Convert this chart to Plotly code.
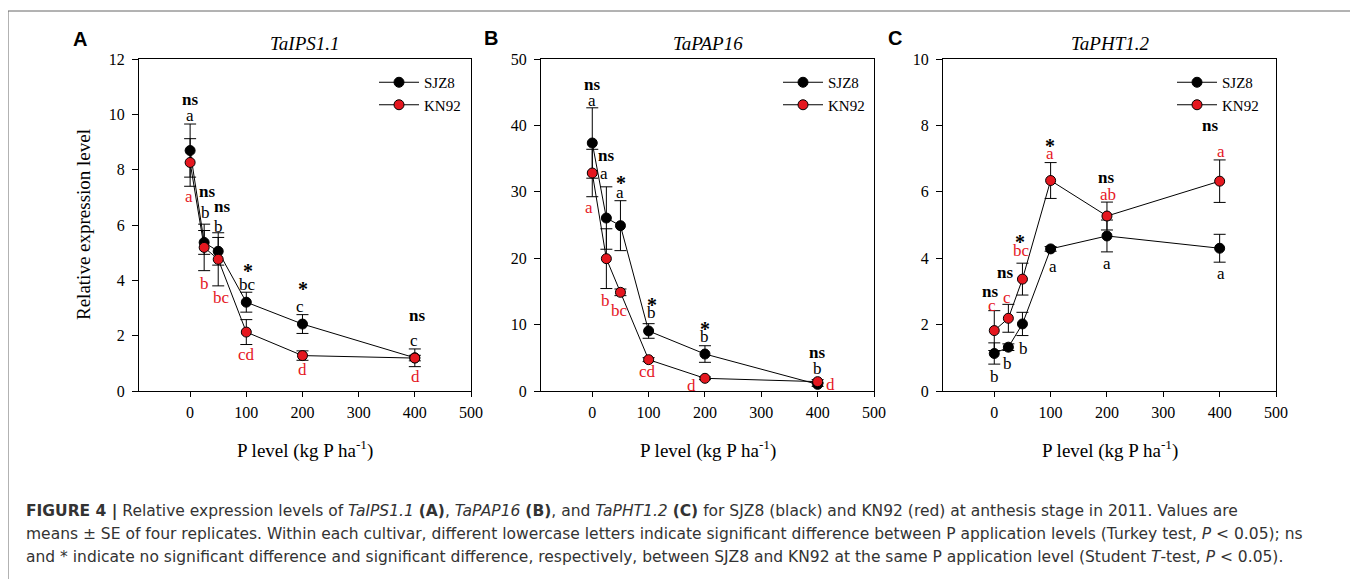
import plotly.graph_objects as go

# page body has an 8px margin: the figure is placed at (8, 8) in the window
OFF = 8
W, H = 1350, 571

# ---------------- data ----------------
p_levels = [0, 25, 50, 100, 200, 400]
x_ticks = [0, 100, 200, 300, 400, 500]
series_names = ["SJZ8", "KN92"]
panel_titles = ["TaIPS1.1", "TaPAP16", "TaPHT1.2"]
panel_letters = ["A", "B", "C"]
y_maxes = [12, 50, 10]
y_dticks = [2, 10, 2]

ips_sjz8 = [8.69, 5.37, 5.05, 3.21, 2.42, 1.20]
ips_sjz8_se = [0.96, 0.43, 0.50, 0.36, 0.34, 0.32]
ips_kn92 = [8.26, 5.19, 4.76, 2.13, 1.28, 1.19]
ips_kn92_se = [0.86, 0.84, 0.96, 0.45, 0.17, 0.10]

pap_sjz8 = [37.35, 26.05, 24.90, 9.04, 5.57, 1.00]
pap_sjz8_se = [5.30, 4.70, 3.76, 1.10, 1.25, 0.30]
pap_kn92 = [32.83, 19.93, 14.86, 4.72, 1.91, 1.41]
pap_kn92_se = [3.57, 4.50, 0.50, 0.30, 0.20, 0.30]

pht_sjz8 = [1.13, 1.32, 2.02, 4.28, 4.67, 4.30]
pht_sjz8_se = [0.32, 0.10, 0.35, 0.07, 0.48, 0.42]
pht_kn92 = [1.82, 2.19, 3.37, 6.34, 5.27, 6.32]
pht_kn92_se = [0.60, 0.42, 0.48, 0.54, 0.42, 0.64]

ips_sig = ["ns", "ns", "ns", "*", "*", "ns"]
ips_sjz8_letters = ["a", "b", "b", "bc", "c", "c"]
ips_kn92_letters = ["a", "b", "bc", "cd", "d", "d"]

pap_sig = ["ns", "ns", "*", "*", "*", "ns"]
pap_sjz8_letters = ["a", "a", "a", "b", "b", "b"]
pap_kn92_letters = ["a", "b", "bc", "cd", "d", "d"]

pht_sig = ["ns", "ns", "*", "*", "ns", "ns"]
pht_sjz8_letters = ["b", "b", "b", "a", "a", "a"]
pht_kn92_letters = ["c", "c", "bc", "a", "ab", "a"]

# ---------------- styling / layout ----------------
SERIF = "Times New Roman, Liberation Serif, serif"
SANS = "Arial, Liberation Sans, sans-serif"
CAPTION_FONT = "DejaVu Sans, sans-serif"
RED = "#e5171f"

plot_left = [139, 541, 943]
plot_right = [471, 874, 1276]
plot_top, plot_bottom = 59, 391
legend_x_px = [374, 778, 1172]
legend_top_px = 66

# label pixel offsets (dx, dy) relative to the anchor point
label_offsets = [
    dict(sig_anchor=0,
         sig=[(0, 51), (3, 51), (4, 45), (2, 36), (1, 40), (2, 42)],
         s=[(0, 35), (1, 30), (0, 25), (1, 18), (-2, 18), (-1, 17)],
         k=[(-1, -34), (0, -36), (3, -38), (0, -22), (0, -14), (1, -18)]),
    dict(sig_anchor=0,
         sig=[(0, 59), (0, 63), (1, 48), (3, 31), (0, 30), (-1, 32)],
         s=[(0, 43), (-2, 45), (0, 33), (3, 18), (0, 18), (0, 16)],
         k=[(-3, -34), (-1, -42), (-1, -18), (-1, -12), (-13, -7), (13, -3)]),
    dict(sig_anchor=1,
         sig=[(-4, 39), (-3, 46), (-2, 42), (-1, 40), (-1, 39), (-10, 56)],
         s=[(0, -23), (-1, -16), (1, -25), (2, -18), (0, -28), (1, -25)],
         k=[(-2, 25), (-1, 21), (-1, 29), (-1, 27), (1, 22), (1, 30)]),
]

panels = [
    (ips_sjz8, ips_sjz8_se, ips_kn92, ips_kn92_se, ips_sig, ips_sjz8_letters, ips_kn92_letters),
    (pap_sjz8, pap_sjz8_se, pap_kn92, pap_kn92_se, pap_sig, pap_sjz8_letters, pap_kn92_letters),
    (pht_sjz8, pht_sjz8_se, pht_kn92, pht_kn92_se, pht_sig, pht_sjz8_letters, pht_kn92_letters),
]

fig = go.Figure()
annotations = []
layout_extra = {}


def px_x(px):
    return (px - OFF) / W


def px_y(py):
    return (H - (py - OFF)) / H


def note(**kw):
    d = dict(showarrow=False, xanchor="center", yanchor="middle")
    d.update(kw)
    return d


for i, (s_vals, s_se, k_vals, k_se, sig, s_let, k_let) in enumerate(panels):
    n = "" if i == 0 else str(i + 1)
    xa, ya = "x" + n, "y" + n
    leg = "legend" if i == 0 else "legend" + str(i + 1)
    for name, vals, se, col in [(series_names[0], s_vals, s_se, "black"),
                                (series_names[1], k_vals, k_se, RED)]:
        fig.add_trace(go.Scatter(
            x=p_levels, y=vals, name=name, mode="lines+markers",
            xaxis=xa, yaxis=ya, legend=leg,
            line=dict(color="black", width=1),
            marker=dict(size=10, color=col, line=dict(color="black", width=1)),
            error_y=dict(type="data", array=se, color="black", thickness=1, width=6),
        ))

    layout_extra["xaxis" + n] = dict(
        domain=[px_x(plot_left[i]), px_x(plot_right[i])], anchor=ya,
        range=[-91, 500], tickvals=x_ticks, ticks="outside", ticklen=5,
        tickcolor="black", showline=True, linecolor="black", linewidth=1,
        mirror=True, showgrid=False, zeroline=False, ticklabelstandoff=2,
        automargin=False,
        tickfont=dict(family=SERIF, size=16, color="black"))
    layout_extra["yaxis" + n] = dict(
        domain=[px_y(plot_bottom), px_y(plot_top)], anchor=xa,
        range=[0, y_maxes[i]], dtick=y_dticks[i], ticks="outside", ticklen=6,
        tickcolor="black", showline=True, linecolor="black", linewidth=1,
        mirror=True, showgrid=False, zeroline=False, ticklabelstandoff=4,
        automargin=False,
        tickfont=dict(family=SERIF, size=16, color="black"))
    layout_extra[leg] = dict(
        x=px_x(legend_x_px[i]), y=px_y(legend_top_px), xanchor="left", yanchor="top",
        bgcolor="rgba(0,0,0,0)", borderwidth=0, tracegroupgap=0, itemwidth=40,
        font=dict(family=SERIF, size=15, color="black"))

    offs = label_offsets[i]
    anchor_vals = [s_vals, k_vals][offs["sig_anchor"]]
    for j, xv in enumerate(p_levels):
        dx, dy = offs["sig"][j]
        annotations.append(note(x=xv, y=anchor_vals[j], xref=xa, yref=ya, text="<b>%s</b>" % sig[j],
                                xshift=dx, yshift=dy + (-5 if sig[j] == "*" else 0),
                                font=dict(family=SERIF, size=17 if sig[j] == "ns" else 20, color="black")))
        dx, dy = offs["s"][j]
        annotations.append(note(x=xv, y=s_vals[j], xref=xa, yref=ya, text=s_let[j],
                                xshift=dx, yshift=dy,
                                font=dict(family=SERIF, size=17, color="black")))
        dx, dy = offs["k"][j]
        annotations.append(note(x=xv, y=k_vals[j], xref=xa, yref=ya, text=k_let[j],
                                xshift=dx, yshift=dy,
                                font=dict(family=SERIF, size=17, color=RED)))

    cx = (plot_left[i] + plot_right[i]) / 2
    annotations.append(note(x=px_x(cx), y=px_y(43), xref="paper", yref="paper",
                            text="<i>%s</i>" % panel_titles[i],
                            font=dict(family=SERIF, size=19, color="black")))
    annotations.append(note(x=px_x(cx), y=px_y(449), xref="paper", yref="paper",
                            text="P level (kg P ha<sup>-1</sup>)",
                            font=dict(family=SERIF, size=19, color="black")))

letter_pos = [(80, 39), (491, 38), (895, 38)]
for i, (lx, ly) in enumerate(letter_pos):
    annotations.append(note(x=px_x(lx), y=px_y(ly), xref="paper", yref="paper",
                            text="<b>%s</b>" % panel_letters[i],
                            font=dict(family=SANS, size=20, color="black")))

annotations.append(note(x=px_x(83), y=px_y(225), xref="paper", yref="paper",
                        text="Relative expression level", textangle=-90,
                        font=dict(family=SERIF, size=19, color="black")))

caption_lines = [
    "<b>FIGURE 4 |</b> Relative expression levels of <i>TaIPS1.1</i> <b>(A)</b>, <i>TaPAP16</i> <b>(B)</b>, "
    "and <i>TaPHT1.2</i> <b>(C)</b> for SJZ8 (black) and KN92 (red) at anthesis stage in 2011. Values are",
    "means ± SE of four replicates. Within each cultivar, different lowercase letters indicate significant "
    "difference between P application levels (Turkey test, <i>P</i> &lt; 0.05); ns",
    "and * indicate no significant difference and significant difference, respectively, between SJZ8 and "
    "KN92 at the same P application level (Student <i>T</i>-test, <i>P</i> &lt; 0.05).",
]
for k, line in enumerate(caption_lines):
    annotations.append(note(x=px_x(24), y=px_y(511 + 23 * k), xref="paper", yref="paper",
                            xanchor="left", align="left", text=line,
                            font=dict(family=CAPTION_FONT, size=15.5, color="#333333")))

fig.update_layout(
    width=W, height=H, margin=dict(l=0, r=0, t=0, b=0, pad=0, autoexpand=False),
    paper_bgcolor="white", plot_bgcolor="white",
    annotations=annotations,
    shapes=[dict(type="rect", xref="paper", yref="paper",
                 x0=px_x(8), x1=px_x(1355), y0=-0.1, y1=px_y(11),
                 line=dict(color="#666666", width=1))],
    **layout_extra,
)

fig.write_html("out.html")
